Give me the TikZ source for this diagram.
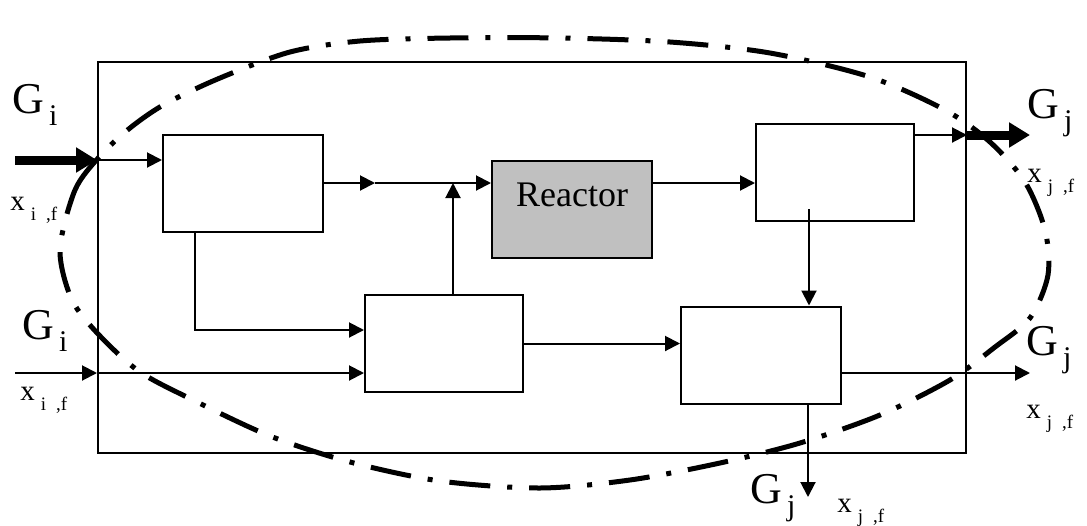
\documentclass[tikz,border=0pt]{standalone}
\usepackage{fontspec}
\setmainfont{Liberation Serif}
\usetikzlibrary{arrows.meta}
\definecolor{reacgray}{RGB}{192,192,192}
\newcommand{\Gflow}[1]{{\fontsize{22}{22}\selectfont G}\hspace{2.5pt}\raisebox{-6pt}{\fontsize{15}{15}\selectfont #1}}
\newcommand{\xcomp}[1]{{\fontsize{14.5}{15}\selectfont x}\hspace{3pt}\raisebox{-5pt}{\fontsize{9.5}{10}\selectfont #1\hspace{5pt},f}}

\begin{document}
\begin{tikzpicture}[x=0.5pt,y=-0.5pt,
  blk/.style={draw,line width=1pt,minimum width=80pt,minimum height=48.5pt,inner sep=0pt},
  flow/.style={line width=1pt,-{Triangle[length=7.5pt,width=7.5pt]}},
  bigflow/.style={line width=4.5pt,-{Triangle[length=10.5pt,width=12pt]}},
  lbl/.style={inner sep=0pt,anchor=base west},
  bound/.style={line width=2.5pt,dash pattern=on 20.5pt off 8.5pt on 2.5pt off 8.5pt}]
  \useasboundingbox (0,0) rectangle (1087,525);
  % ---- frame and units ----
  \node[draw,line width=1pt,minimum width=434pt,minimum height=195.5pt,inner sep=0pt]
     (frame) at (532,257.5) {};
  \node[blk] (boxA) at (243,183.5) {};
  \node[blk,fill=reacgray] (reac) at (572,209) {};
  \node[inner sep=0pt,anchor=base,font=\fontsize{18}{18}\selectfont] (reactxt) at (572,206) {Reactor};
  \node[blk,minimum width=79pt] (boxTR) at (835,172) {};
  \node[blk,minimum width=79pt] (boxM) at (444,343.5) {};
  \node[blk] (boxBR) at (761,355) {};
  % ---- free ends and joints ----
  \coordinate (inA) at (15,160);
  \coordinate (inB) at (15,373);
  \coordinate (outA) at (1030,135);
  \coordinate (outB) at (1030,373);
  \coordinate (outC) at (808,497);
  \coordinate (mix) at (375,183);
  \coordinate (rec) at (453,183);
  \coordinate (split) at (195,330);
  \coordinate (drop) at (809,209);
  % ---- streams ----
  \draw[bigflow] (inA) -- (inA -| frame.west);
  \draw[flow] (inA -| frame.west) -- (inA -| boxA.west);
  \draw[flow] (boxA.east |- mix) -- (mix);
  \draw[flow] (mix) -- (mix -| reac.west);
  \draw[flow] (boxM.north -| rec) -- (rec);
  \draw[flow] (boxA.south -| split) |- (split -| boxM.west);
  \draw[flow] (inB) -- (inB -| frame.west);
  \draw[flow] (inB -| frame.west) -- (inB -| boxM.west);
  \draw[flow] (boxM.east) -- (boxM.east -| boxBR.west);
  \draw[flow] (reac.east |- mix) -- (mix -| boxTR.west);
  \draw[flow] (boxTR.east |- outA) -- (outA -| frame.east);
  \draw[bigflow] (outA -| frame.east) -- (outA);
  \draw[flow] (drop) -- (drop |- boxBR.north);
  \draw[flow] (boxBR.east |- outB) -- (outB);
  \draw[flow] (boxBR.south -| outC) -- (outC);
  % ---- labels ----
  \node[lbl] (GinA) at (12,113) {\Gflow{i}};
  \node[lbl] (xinA) at (10,210) {\xcomp{i}};
  \node[lbl] (GinB) at (22,339) {\Gflow{i}};
  \node[lbl] (xinB) at (20,400) {\xcomp{i}};
  \node[lbl] (GoutA) at (1027,118) {\Gflow{j}};
  \node[lbl] (xoutA) at (1027,182) {\xcomp{j}};
  \node[lbl] (GoutB) at (1026,355) {\Gflow{j}};
  \node[lbl] (xoutB) at (1026,418) {\xcomp{j}};
  \node[lbl] (GoutC) at (750,503) {\Gflow{j}};
  \node[lbl] (xoutC) at (837,512) {\xcomp{j}};
  % ---- balance boundary ----
  \draw[bound] plot[smooth cycle] coordinates {(60,250) (75,190) (100,156) (130,128)
    (165,104) (220,78) (290,52) (360,41) (450,38) (560,38) (670,42) (770,53)
    (870,77) (945,110) (990,142) (1025,182) (1045,230) (1048,275) (1030,318)
    (995,347) (950,380) (880,415) (800,443) (720,463) (630,480) (540,488)
    (440,481) (350,462) (270,436) (193,400) (140,372) (100,336) (72,300)};
\end{tikzpicture}
\end{document}
